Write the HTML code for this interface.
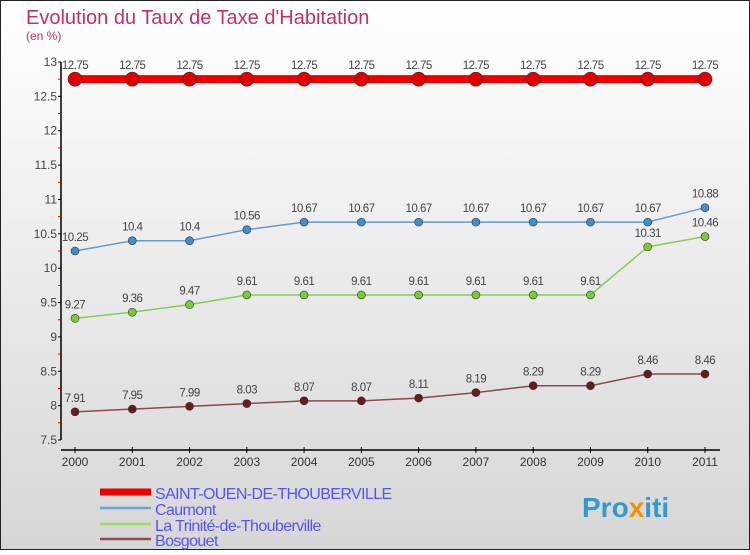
<!DOCTYPE html>
<html><head><meta charset="utf-8"><style>
html,body{margin:0;padding:0}
body{width:750px;height:550px;overflow:hidden;font-family:"Liberation Sans",sans-serif}
</style></head><body>
<svg id="chart" width="750" height="550" xmlns="http://www.w3.org/2000/svg">
<defs><linearGradient id="bg" x1="0" y1="0" x2="0" y2="1"><stop offset="0" stop-color="#ffffff"/><stop offset="1" stop-color="#d6d6d6"/></linearGradient></defs>
<rect x="0.5" y="0.5" width="749" height="549" fill="url(#bg)" stroke="#222"/>
<text x="26" y="24" font-size="20" fill="#c0306a">Evolution du Taux de Taxe d'Habitation</text>
<text x="26" y="40" font-size="12" fill="#c0306a">(en %)</text>
<g id="axes"></g>
<g id="series"></g>
<g id="legend"></g>
<text x="582" y="517" font-size="28" font-weight="bold" fill="#3399cc">Pro<tspan fill="#f39200">x</tspan>iti</text>
</svg>
<script>
const years=[2000,2001,2002,2003,2004,2005,2006,2007,2008,2009,2010,2011];
const yTicks=[7.5,8,8.5,9,9.5,10,10.5,11,11.5,12,12.5,13];
const yTickLabels=["7.5","8","8.5","9","9.5","10","10.5","11","11.5","12","12.5","13"];
const saintOuen=[12.75,12.75,12.75,12.75,12.75,12.75,12.75,12.75,12.75,12.75,12.75,12.75];
const caumont=[10.25,10.4,10.4,10.56,10.67,10.67,10.67,10.67,10.67,10.67,10.67,10.88];
const laTrinite=[9.27,9.36,9.47,9.61,9.61,9.61,9.61,9.61,9.61,9.61,10.31,10.46];
const bosgouet=[7.91,7.95,7.99,8.03,8.07,8.07,8.11,8.19,8.29,8.29,8.46,8.46];
const seriesNames=["SAINT-OUEN-DE-THOUBERVILLE","Caumont","La Trinité-de-Thouberville","Bosgouet"];
const NS="http://www.w3.org/2000/svg";
function xS(i){return 75+i*(705-75)/11;}
function yS(v){return 440-(v-7.5)*(440-62)/5.5;}
function mk(t,a,p){const e=document.createElementNS(NS,t);for(const k in a)e.setAttribute(k,a[k]);p.appendChild(e);return e;}
const ax=document.getElementById('axes');
let l=mk('line',{x1:61,y1:62,x2:61,y2:440,stroke:'#000','stroke-width':1.5},ax);


yTicks.forEach((v,i)=>{
 let t=mk('line',{x1:58,x2:61,y1:yS(v),y2:yS(v),stroke:'#000'},ax);
 
 
 let tx=mk('text',{x:57,y:yS(v)+4,'text-anchor':'end','font-size':12,fill:'#444'},ax);
 tx.textContent=yTickLabels[i];
 
 
 if(i<yTicks.length-1){let m=mk('line',{x1:58,x2:61,y1:yS(v+0.25),y2:yS(v+0.25),stroke:'#e00'},ax);
 
 }
});
l=mk('line',{x1:61,y1:450,x2:720,y2:450,stroke:'#000','stroke-width':1.5},ax);


years.forEach((y,i)=>{
 let t=mk('line',{x1:xS(i),x2:xS(i),y1:447,y2:453,stroke:'#000'},ax);
 
 
 let tx=mk('text',{x:xS(i),y:466,'text-anchor':'middle','font-size':12,fill:'#333'},ax);
 tx.textContent=y;
 
 
});
const sg=document.getElementById('series');
function draw(vals,color,w,r,name,dot){
 const g=mk('g',{},sg);
 
 
 const p=mk('polyline',{points:vals.map((v,i)=>xS(i)+','+yS(v)).join(' '),fill:'none',stroke:color,'stroke-width':w},g);
 
 
 vals.forEach((v,i)=>{
  const c=mk('circle',{cx:xS(i),cy:yS(v),r:r,fill:dot,stroke:'#333','stroke-width':0.6},g);
  
  
  const t=mk('text',{x:xS(i),y:yS(v)-10,'text-anchor':'middle','font-size':11.5,fill:'#444','letter-spacing':'-0.5'},g);
  t.textContent=String(v);
  
  
 });
}
draw(bosgouet,'#8a4a4a',1.5,4,'bosgouet-series','#6b1a1a');
draw(laTrinite,'#88cc55',1.5,4,'la-trinite-series','#77cc33');
draw(caumont,'#6699cc',1.5,4,'caumont-series','#3d8fd0');
draw(saintOuen,'#ee0000',8,7,'saint-ouen-series','#e00000');
const lg=document.getElementById('legend');
const lc=['#ee0000','#6aa6cc','#99dd66','#8a4a4a'],lw=[7,2.5,2.5,2.5],ly=[492,508,524,539];
seriesNames.forEach((n,i)=>{
 const s=mk('line',{x1:100,x2:151,y1:ly[i],y2:ly[i],stroke:lc[i],'stroke-width':lw[i]},lg);
 
 
 const t=mk('text',{x:155,y:ly[i]+7,'font-size':16,fill:'#5555ee','letter-spacing':'-0.6'},lg);
 t.textContent=n;
 
 
});
</script>
</body></html>
